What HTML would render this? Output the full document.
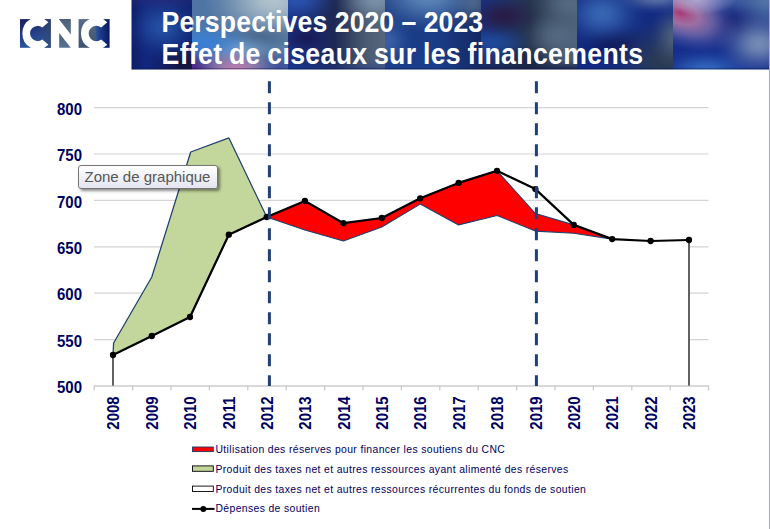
<!DOCTYPE html>
<html>
<head>
<meta charset="utf-8">
<title>Perspectives 2020 – 2023</title>
<style>
html,body{margin:0;padding:0;background:#fff;}
body{width:770px;height:529px;position:relative;overflow:hidden;font-family:"Liberation Sans",sans-serif;}
#banner{position:absolute;left:0;top:0;width:769px;height:70px;overflow:hidden;}
.seg{position:absolute;top:0;height:70px;}
#title{position:absolute;left:161.5px;top:5.9px;color:#fff;font-weight:bold;font-size:26.67px;line-height:32.5px;white-space:nowrap;}
.tl{display:block;transform:scaleY(1.095);transform-origin:0 50%;}
#chart{position:absolute;left:0;top:0;}
.ylab{position:absolute;width:40px;left:42px;text-align:right;font-weight:bold;font-size:15px;color:#000060;line-height:15px;transform:scaleY(1.05);}
.xlab{position:absolute;font-weight:bold;font-size:15px;color:#000060;line-height:15px;transform:translate(-50%,-50%) rotate(-90deg) scaleY(1.04);white-space:nowrap;}
.leg{position:absolute;left:215.5px;font-size:10.4px;letter-spacing:0.365px;color:#000060;white-space:nowrap;line-height:12px;}
#tip{position:absolute;left:78px;top:164.5px;width:137.5px;height:22px;border:1px solid #767676;border-radius:3px;background:linear-gradient(#ffffff,#e4e5f0);box-shadow:2px 2px 3px rgba(0,0,0,.45);font-size:15px;color:#575757;line-height:22px;text-indent:5.5px;white-space:nowrap;}
</style>
</head>
<body>
<!-- banner -->
<div id="banner">
  <div class="seg" style="left:131px;width:61px;overflow:hidden;background:radial-gradient(ellipse 38px 32px at 32px 27px,rgba(42,90,174,0.8) 0%,rgba(42,90,174,0.704) 20%,rgba(42,90,174,0.496) 40%,rgba(42,90,174,0.272) 60%,rgba(42,90,174,0.096) 80%,rgba(42,90,174,0) 100%),radial-gradient(ellipse 43px 27px at 58px 66px,rgba(21,21,58,1) 0%,rgba(21,21,58,0.88) 20%,rgba(21,21,58,0.62) 40%,rgba(21,21,58,0.34) 60%,rgba(21,21,58,0.12) 80%,rgba(21,21,58,0) 100%),radial-gradient(ellipse 59px 16px at 30px -4px,rgba(42,42,120,0.8) 0%,rgba(42,42,120,0.704) 20%,rgba(42,42,120,0.496) 40%,rgba(42,42,120,0.272) 60%,rgba(42,42,120,0.096) 80%,rgba(42,42,120,0) 100%),linear-gradient(90deg,#0e1d6a 0,#11277e 25%,#102472 100%);"></div>
  <div class="seg" style="left:192px;width:96px;overflow:hidden;background:radial-gradient(ellipse 42px 26px at 44px 71px,rgba(196,124,174,0.95) 0%,rgba(196,124,174,0.836) 20%,rgba(196,124,174,0.589) 40%,rgba(196,124,174,0.323) 60%,rgba(196,124,174,0.114) 80%,rgba(196,124,174,0) 100%),radial-gradient(ellipse 35px 24px at 0px 69px,rgba(76,38,134,1) 0%,rgba(76,38,134,0.88) 20%,rgba(76,38,134,0.62) 40%,rgba(76,38,134,0.34) 60%,rgba(76,38,134,0.12) 80%,rgba(76,38,134,0) 100%),radial-gradient(ellipse 32px 20px at 88px 67px,rgba(64,82,154,1) 0%,rgba(64,82,154,0.88) 20%,rgba(64,82,154,0.62) 40%,rgba(64,82,154,0.34) 60%,rgba(64,82,154,0.12) 80%,rgba(64,82,154,0) 100%),radial-gradient(ellipse 70px 44px at 82px 0px,rgba(178,196,204,1) 0%,rgba(178,196,204,0.88) 20%,rgba(178,196,204,0.62) 40%,rgba(178,196,204,0.34) 60%,rgba(178,196,204,0.12) 80%,rgba(178,196,204,0) 100%),radial-gradient(ellipse 52px 24px at 12px 43px,rgba(58,128,212,1) 0%,rgba(58,128,212,0.88) 20%,rgba(58,128,212,0.62) 40%,rgba(58,128,212,0.34) 60%,rgba(58,128,212,0.12) 80%,rgba(58,128,212,0) 100%),radial-gradient(ellipse 38px 16px at 46px 49px,rgba(134,180,222,0.6) 0%,rgba(134,180,222,0.528) 20%,rgba(134,180,222,0.372) 40%,rgba(134,180,222,0.204) 60%,rgba(134,180,222,0.072) 80%,rgba(134,180,222,0) 100%),radial-gradient(ellipse 46px 16px at 72px 34px,rgba(60,92,132,0.9) 0%,rgba(60,92,132,0.792) 20%,rgba(60,92,132,0.558) 40%,rgba(60,92,132,0.306) 60%,rgba(60,92,132,0.108) 80%,rgba(60,92,132,0) 100%),linear-gradient(90deg,#4e74a4,#5c7ea4);"></div>
  <div class="seg" style="left:288px;width:96.5px;overflow:hidden;background:radial-gradient(ellipse 40px 22px at 10px 0px,rgba(44,88,180,0.85) 0%,rgba(44,88,180,0.748) 20%,rgba(44,88,180,0.527) 40%,rgba(44,88,180,0.289) 60%,rgba(44,88,180,0.102) 80%,rgba(44,88,180,0) 100%),radial-gradient(ellipse 32px 19px at 18px 38px,rgba(24,28,88,1) 0%,rgba(24,28,88,0.88) 20%,rgba(24,28,88,0.62) 40%,rgba(24,28,88,0.34) 60%,rgba(24,28,88,0.12) 80%,rgba(24,28,88,0) 100%),radial-gradient(ellipse 40px 26px at 88px 0px,rgba(120,144,168,1) 0%,rgba(120,144,168,0.88) 20%,rgba(120,144,168,0.62) 40%,rgba(120,144,168,0.34) 60%,rgba(120,144,168,0.12) 80%,rgba(120,144,168,0) 100%),linear-gradient(0deg,rgba(30,56,140,.5) 0,rgba(30,56,140,0) 16%),linear-gradient(90deg,#1a348c 0,#1c2e72 25%,#1e2852 48%,#3c4966 68%,#4c5c74 82%,#56667c 100%);"></div>
  <div class="seg" style="left:384.5px;width:96px;overflow:hidden;background:radial-gradient(ellipse 66px 38px at 44px -4px,rgba(100,144,192,0.9) 0%,rgba(100,144,192,0.792) 20%,rgba(100,144,192,0.558) 40%,rgba(100,144,192,0.306) 60%,rgba(100,144,192,0.108) 80%,rgba(100,144,192,0) 100%),radial-gradient(ellipse 27px 27px at 2px 41px,rgba(62,102,172,0.85) 0%,rgba(62,102,172,0.748) 20%,rgba(62,102,172,0.527) 40%,rgba(62,102,172,0.289) 60%,rgba(62,102,172,0.102) 80%,rgba(62,102,172,0) 100%),radial-gradient(ellipse 27px 27px at 90px 2px,rgba(74,96,130,0.9) 0%,rgba(74,96,130,0.792) 20%,rgba(74,96,130,0.558) 40%,rgba(74,96,130,0.306) 60%,rgba(74,96,130,0.108) 80%,rgba(74,96,130,0) 100%),linear-gradient(90deg,rgba(20,40,98,0) 55%,rgba(20,40,98,1) 100%),linear-gradient(#1a3a82,#1b3e8a);"></div>
  <div class="seg" style="left:480.5px;width:96.5px;overflow:hidden;background:radial-gradient(ellipse 40px 20px at 22px 16px,rgba(42,26,68,0.95) 0%,rgba(42,26,68,0.836) 20%,rgba(42,26,68,0.589) 40%,rgba(42,26,68,0.323) 60%,rgba(42,26,68,0.114) 80%,rgba(42,26,68,0) 100%),radial-gradient(ellipse 30px 18px at 46px 62px,rgba(26,36,68,0.9) 0%,rgba(26,36,68,0.792) 20%,rgba(26,36,68,0.558) 40%,rgba(26,36,68,0.306) 60%,rgba(26,36,68,0.108) 80%,rgba(26,36,68,0) 100%),radial-gradient(ellipse 44px 18px at 10px 43px,rgba(30,76,158,0.9) 0%,rgba(30,76,158,0.792) 20%,rgba(30,76,158,0.558) 40%,rgba(30,76,158,0.306) 60%,rgba(30,76,158,0.108) 80%,rgba(30,76,158,0) 100%),radial-gradient(ellipse 36px 26px at 76px 36px,rgba(88,110,134,0.8) 0%,rgba(88,110,134,0.704) 20%,rgba(88,110,134,0.496) 40%,rgba(88,110,134,0.272) 60%,rgba(88,110,134,0.096) 80%,rgba(88,110,134,0) 100%),radial-gradient(ellipse 30px 20px at 88px 4px,rgba(90,112,136,0.7) 0%,rgba(90,112,136,0.616) 20%,rgba(90,112,136,0.434) 40%,rgba(90,112,136,0.238) 60%,rgba(90,112,136,0.084) 80%,rgba(90,112,136,0) 100%),linear-gradient(0deg,#17244a 0,rgba(24,38,79,0) 14%),linear-gradient(90deg,#1a3080 0,#1e3268 25%,#26344e 50%,#3a4c62 70%,#465a70 88%,#4a6078 100%);"></div>
  <div class="seg" style="left:577px;width:96.3px;overflow:hidden;background:radial-gradient(ellipse 44px 34px at 25px 14px,rgba(62,112,188,0.85) 0%,rgba(62,112,188,0.748) 20%,rgba(62,112,188,0.527) 40%,rgba(62,112,188,0.289) 60%,rgba(62,112,188,0.102) 80%,rgba(62,112,188,0) 100%),radial-gradient(ellipse 46px 16px at 80px -2px,rgba(108,132,176,0.8) 0%,rgba(108,132,176,0.704) 20%,rgba(108,132,176,0.496) 40%,rgba(108,132,176,0.272) 60%,rgba(108,132,176,0.096) 80%,rgba(108,132,176,0) 100%),radial-gradient(ellipse 26px 34px at 98px 36px,rgba(90,108,126,0.8) 0%,rgba(90,108,126,0.704) 20%,rgba(90,108,126,0.496) 40%,rgba(90,108,126,0.272) 60%,rgba(90,108,126,0.096) 80%,rgba(90,108,126,0) 100%),radial-gradient(ellipse 64px 48px at 88px 62px,rgba(44,60,80,0.95) 0%,rgba(44,60,80,0.836) 20%,rgba(44,60,80,0.589) 40%,rgba(44,60,80,0.323) 60%,rgba(44,60,80,0.114) 80%,rgba(44,60,80,0) 100%),radial-gradient(ellipse 38px 22px at 36px 44px,rgba(13,22,86,0.85) 0%,rgba(13,22,86,0.748) 20%,rgba(13,22,86,0.527) 40%,rgba(13,22,86,0.289) 60%,rgba(13,22,86,0.102) 80%,rgba(13,22,86,0) 100%),linear-gradient(#132c82,#112a82);"></div>
  <div class="seg" style="left:673.3px;width:95.7px;overflow:hidden;background:radial-gradient(ellipse 44px 34px at 86px 44px,rgba(134,156,188,0.85) 0%,rgba(134,156,188,0.748) 20%,rgba(134,156,188,0.527) 40%,rgba(134,156,188,0.289) 60%,rgba(134,156,188,0.102) 80%,rgba(134,156,188,0) 100%),radial-gradient(ellipse 46px 35px at 96px 0px,rgba(96,132,172,0.8) 0%,rgba(96,132,172,0.704) 20%,rgba(96,132,172,0.496) 40%,rgba(96,132,172,0.272) 60%,rgba(96,132,172,0.096) 80%,rgba(96,132,172,0) 100%),radial-gradient(ellipse 59px 19px at 50px -2px,rgba(72,102,172,0.7) 0%,rgba(72,102,172,0.616) 20%,rgba(72,102,172,0.434) 40%,rgba(72,102,172,0.238) 60%,rgba(72,102,172,0.084) 80%,rgba(72,102,172,0) 100%),radial-gradient(ellipse 51px 22px at 33px 70px,rgba(58,120,200,0.8) 0%,rgba(58,120,200,0.704) 20%,rgba(58,120,200,0.496) 40%,rgba(58,120,200,0.272) 60%,rgba(58,120,200,0.096) 80%,rgba(58,120,200,0) 100%),radial-gradient(ellipse 38px 28px at 62px 22px,rgba(23,36,120,0.9) 0%,rgba(23,36,120,0.792) 20%,rgba(23,36,120,0.558) 40%,rgba(23,36,120,0.306) 60%,rgba(23,36,120,0.108) 80%,rgba(23,36,120,0) 100%),linear-gradient(#1a348a,#132c8e);"><div style="position:absolute;left:-46px;top:-18px;width:124px;height:68px;transform:rotate(24deg);background:radial-gradient(ellipse 62px 34px at 42% 50%,rgba(168,54,110,.95) 0,rgba(182,88,138,.9) 14%,rgba(190,126,168,.8) 32%,rgba(178,140,186,.52) 55%,rgba(156,136,192,.2) 78%,rgba(160,140,196,0) 100%)"></div><div style="position:absolute;left:-10px;top:0;width:90px;height:16px;background:radial-gradient(ellipse 40px 15px at 38% 0,rgba(182,174,214,.85),rgba(182,174,214,0))"></div></div>
  <div style="position:absolute;left:131px;top:68px;width:638px;height:1px;background:rgba(10,20,80,.4)"></div>
  <div style="position:absolute;left:131px;top:69px;width:638px;height:1px;background:rgba(255,255,255,.45)"></div>
  <div style="position:absolute;left:131px;top:0;width:1px;height:70px;background:rgba(255,255,255,.5)"></div>
</div>
<div id="redge" style="position:absolute;left:769px;top:0;width:1px;height:529px;background:#a6abb4"></div>
<div id="title"><span class="tl"><span style="letter-spacing:.12px">Perspectives</span> 2020 – 2023</span><span class="tl" style="letter-spacing:.35px;word-spacing:-1.3px">Effet de ciseaux sur les financements</span></div>

<!-- logo -->
<svg id="logo" style="position:absolute;left:20px;top:19px;overflow:visible" width="90" height="29" viewBox="0 0 90 29">
  <defs>
    <linearGradient id="lg1" x1="0" y1="0" x2="0.35" y2="1"><stop offset="0" stop-color="#1b1c60"/><stop offset="1" stop-color="#2a5aa8"/></linearGradient>
    <linearGradient id="lg1b" x1="0" y1="0" x2="1" y2="0"><stop offset="0.45" stop-color="#34466e" stop-opacity="0"/><stop offset="1" stop-color="#34466e" stop-opacity=".75"/></linearGradient>
    <linearGradient id="lg2" x1="0" y1="0" x2="0" y2="1"><stop offset="0" stop-color="#4c6078"/><stop offset="1" stop-color="#587294"/></linearGradient>
    <linearGradient id="lg3" x1="0" y1="0" x2="0" y2="1"><stop offset="0" stop-color="#5a6c86"/><stop offset="1" stop-color="#3e526e"/></linearGradient>
    <linearGradient id="lg4" x1="0" y1="0" x2="1" y2="0"><stop offset="0" stop-color="#34589c"/><stop offset=".35" stop-color="#1c3a8a"/><stop offset="1" stop-color="#0a1860"/></linearGradient>
  </defs>
  <rect x="0" y="0.1" width="30.8" height="28.7" fill="url(#lg1)"/>
  <rect x="0" y="0.1" width="30.8" height="28.7" fill="url(#lg1b)"/>
  <path d="M10.76,0.10 A15.60,16.20 0 0 0 10.76,28.80 L10.76,29.30 L24.20,29.30 L24.20,28.80 L28.40,25.75 L22.30,20.45 A7.60,7.60 0 1 1 22.30,8.45 L28.40,3.15 L24.20,0.10 L24.20,-0.40 L10.76,-0.40 Z" fill="#fff"/>
  <polygon points="38.7,0.1 50.8,0.1 50.8,15.4" fill="url(#lg2)"/>
  <polygon points="39.2,13.9 39.2,28.8 50.8,28.8" fill="url(#lg2)"/>
  <rect x="58.6" y="0.1" width="17.6" height="28.7" fill="url(#lg3)"/>
  <rect x="75.5" y="0.1" width="14.1" height="28.7" fill="url(#lg4)"/>
  <path d="M69.64,0.10 A15.50,16.00 0 0 0 69.64,28.80 L69.64,29.30 L83.10,29.30 L83.10,28.80 L87.30,25.75 L81.20,20.45 A7.70,7.70 0 1 1 81.20,8.45 L87.30,3.15 L83.10,0.10 L83.10,-0.40 L69.64,-0.40 Z" fill="#fff"/>
</svg>

<!-- chart -->
<svg id="chart" width="770" height="529" viewBox="0 0 770 529">
<line x1="94" x2="708.5" y1="107.6" y2="107.6" stroke="#d4d4d4" stroke-width="1.2"/>
<line x1="94" x2="708.5" y1="154.0" y2="154.0" stroke="#d4d4d4" stroke-width="1.2"/>
<line x1="94" x2="708.5" y1="200.4" y2="200.4" stroke="#d4d4d4" stroke-width="1.2"/>
<line x1="94" x2="708.5" y1="246.8" y2="246.8" stroke="#d4d4d4" stroke-width="1.2"/>
<line x1="94" x2="708.5" y1="293.2" y2="293.2" stroke="#d4d4d4" stroke-width="1.2"/>
<line x1="94" x2="708.5" y1="339.6" y2="339.6" stroke="#d4d4d4" stroke-width="1.2"/>
<polygon points="113.0,355.0 151.8,336.0 190.0,317.0 228.8,234.7 266.7,217.0 304.9,230.0 343.4,241.0 381.8,227.0 420.2,204.1 458.6,224.9 497.0,215.5 535.4,231.1 573.8,233.2 612.2,239.1 650.6,241.0 689.0,240.0 689.0,386.0 113.0,386.0" fill="#fff" stroke="none"/>
<line x1="113.0" x2="113.0" y1="355.0" y2="386" stroke="#3a3a3a" stroke-width="1.6"/>
<line x1="689.0" x2="689.0" y1="240.0" y2="386" stroke="#3a3a3a" stroke-width="1.6"/>
<polygon points="113.6,343.0 151.8,277.0 190.7,152.0 228.9,137.9 266.7,217.0 228.8,234.7 190.0,317.0 151.8,336.0 113.0,355.0" fill="#c3d69b" stroke="#1f3f6e" stroke-width="1.25" stroke-linejoin="round"/>
<polygon points="266.7,217.0 304.9,201.0 343.4,223.2 381.8,218.0 420.2,198.3 458.6,182.9 497.0,170.8 535.4,213.5 573.8,224.9 612.2,239.1 573.8,233.2 535.4,231.1 497.0,215.5 458.6,224.9 420.2,204.1 381.8,227.0 343.4,241.0 304.9,230.0" fill="#ff0000" stroke="#1f3f6e" stroke-width="1.1" stroke-linejoin="round"/>
<line x1="94" x2="708.5" y1="386" y2="386" stroke="#b2b2b2" stroke-width="1.1"/>
<line x1="94.2" x2="94.2" y1="386" y2="390.5" stroke="#c4c4c4" stroke-width="1.1"/>
<line x1="132.6" x2="132.6" y1="386" y2="390.5" stroke="#c4c4c4" stroke-width="1.1"/>
<line x1="171.0" x2="171.0" y1="386" y2="390.5" stroke="#c4c4c4" stroke-width="1.1"/>
<line x1="209.4" x2="209.4" y1="386" y2="390.5" stroke="#c4c4c4" stroke-width="1.1"/>
<line x1="247.8" x2="247.8" y1="386" y2="390.5" stroke="#c4c4c4" stroke-width="1.1"/>
<line x1="286.2" x2="286.2" y1="386" y2="390.5" stroke="#c4c4c4" stroke-width="1.1"/>
<line x1="324.6" x2="324.6" y1="386" y2="390.5" stroke="#c4c4c4" stroke-width="1.1"/>
<line x1="363.0" x2="363.0" y1="386" y2="390.5" stroke="#c4c4c4" stroke-width="1.1"/>
<line x1="401.4" x2="401.4" y1="386" y2="390.5" stroke="#c4c4c4" stroke-width="1.1"/>
<line x1="439.8" x2="439.8" y1="386" y2="390.5" stroke="#c4c4c4" stroke-width="1.1"/>
<line x1="478.2" x2="478.2" y1="386" y2="390.5" stroke="#c4c4c4" stroke-width="1.1"/>
<line x1="516.6" x2="516.6" y1="386" y2="390.5" stroke="#c4c4c4" stroke-width="1.1"/>
<line x1="555.0" x2="555.0" y1="386" y2="390.5" stroke="#c4c4c4" stroke-width="1.1"/>
<line x1="593.4" x2="593.4" y1="386" y2="390.5" stroke="#c4c4c4" stroke-width="1.1"/>
<line x1="631.8" x2="631.8" y1="386" y2="390.5" stroke="#c4c4c4" stroke-width="1.1"/>
<line x1="670.2" x2="670.2" y1="386" y2="390.5" stroke="#c4c4c4" stroke-width="1.1"/>
<line x1="708.6" x2="708.6" y1="386" y2="390.5" stroke="#c4c4c4" stroke-width="1.1"/>
<polyline points="113.0,355.0 151.8,336.0 190.0,317.0 228.8,234.7 266.7,217.0 304.9,201.0 343.4,223.2 381.8,218.0 420.2,198.3 458.6,182.9 497.0,170.8 535.4,189.1 573.8,224.9 612.2,239.1 650.6,241.0 689.0,240.0" fill="none" stroke="#000" stroke-width="2.2" stroke-linejoin="round"/>
<circle cx="113.0" cy="355.0" r="3.15" fill="#000"/>
<circle cx="151.8" cy="336.0" r="3.15" fill="#000"/>
<circle cx="190.0" cy="317.0" r="3.15" fill="#000"/>
<circle cx="228.8" cy="234.7" r="3.15" fill="#000"/>
<circle cx="266.7" cy="217.0" r="3.15" fill="#000"/>
<circle cx="304.9" cy="201.0" r="3.15" fill="#000"/>
<circle cx="343.4" cy="223.2" r="3.15" fill="#000"/>
<circle cx="381.8" cy="218.0" r="3.15" fill="#000"/>
<circle cx="420.2" cy="198.3" r="3.15" fill="#000"/>
<circle cx="458.6" cy="182.9" r="3.15" fill="#000"/>
<circle cx="497.0" cy="170.8" r="3.15" fill="#000"/>
<circle cx="535.4" cy="189.1" r="3.15" fill="#000"/>
<circle cx="573.8" cy="224.9" r="3.15" fill="#000"/>
<circle cx="612.2" cy="239.1" r="3.15" fill="#000"/>
<circle cx="650.6" cy="241.0" r="3.15" fill="#000"/>
<circle cx="689.0" cy="240.0" r="3.15" fill="#000"/>
<line x1="269.4" x2="269.4" y1="81.3" y2="386" stroke="#1f4079" stroke-width="3" stroke-dasharray="12 9"/>
<line x1="536.4" x2="536.4" y1="81.3" y2="386" stroke="#1f4079" stroke-width="3" stroke-dasharray="12 9"/>
<rect x="192.5" y="447" width="20.8" height="4.6" fill="#ff0000" stroke="#1f3864" stroke-width="0.9"/>
<rect x="192.5" y="465.9" width="20.8" height="5.4" fill="#c3d69b" stroke="#000" stroke-width="0.9"/>
<rect x="192.5" y="486.1" width="20.8" height="5.4" fill="#fff" stroke="#000" stroke-width="0.9"/>
<line x1="192" x2="214.5" y1="508.9" y2="508.9" stroke="#000" stroke-width="2"/><circle cx="203.3" cy="508.9" r="3" fill="#000"/>
</svg>

<!-- labels -->
<div class="ylab" style="top:101.7px">800</div>
<div class="ylab" style="top:148.1px">750</div>
<div class="ylab" style="top:194.5px">700</div>
<div class="ylab" style="top:240.9px">650</div>
<div class="ylab" style="top:287.3px">600</div>
<div class="ylab" style="top:333.7px">550</div>
<div class="ylab" style="top:380.1px">500</div>
<div class="xlab" style="left:113.2px;top:413.2px">2008</div>
<div class="xlab" style="left:152.0px;top:413.2px">2009</div>
<div class="xlab" style="left:190.2px;top:413.2px">2010</div>
<div class="xlab" style="left:229.0px;top:413.2px">2011</div>
<div class="xlab" style="left:266.9px;top:413.2px">2012</div>
<div class="xlab" style="left:305.1px;top:413.2px">2013</div>
<div class="xlab" style="left:343.6px;top:413.2px">2014</div>
<div class="xlab" style="left:382.0px;top:413.2px">2015</div>
<div class="xlab" style="left:420.4px;top:413.2px">2016</div>
<div class="xlab" style="left:458.8px;top:413.2px">2017</div>
<div class="xlab" style="left:497.2px;top:413.2px">2018</div>
<div class="xlab" style="left:535.6px;top:413.2px">2019</div>
<div class="xlab" style="left:574.0px;top:413.2px">2020</div>
<div class="xlab" style="left:612.4px;top:413.2px">2021</div>
<div class="xlab" style="left:650.8px;top:413.2px">2022</div>
<div class="xlab" style="left:689.2px;top:413.2px">2023</div>
<div class="leg" style="top:444.0px">Utilisation des réserves pour financer les soutiens du CNC</div>
<div class="leg" style="top:464.1px">Produit des taxes net et autres ressources ayant alimenté des réserves</div>
<div class="leg" style="top:484.0px">Produit des taxes net et autres ressources récurrentes du fonds de soutien</div>
<div class="leg" style="top:503.0px">Dépenses de soutien</div>
<!-- /labels -->
<div id="tip">Zone de graphique</div>
</body>
</html>
